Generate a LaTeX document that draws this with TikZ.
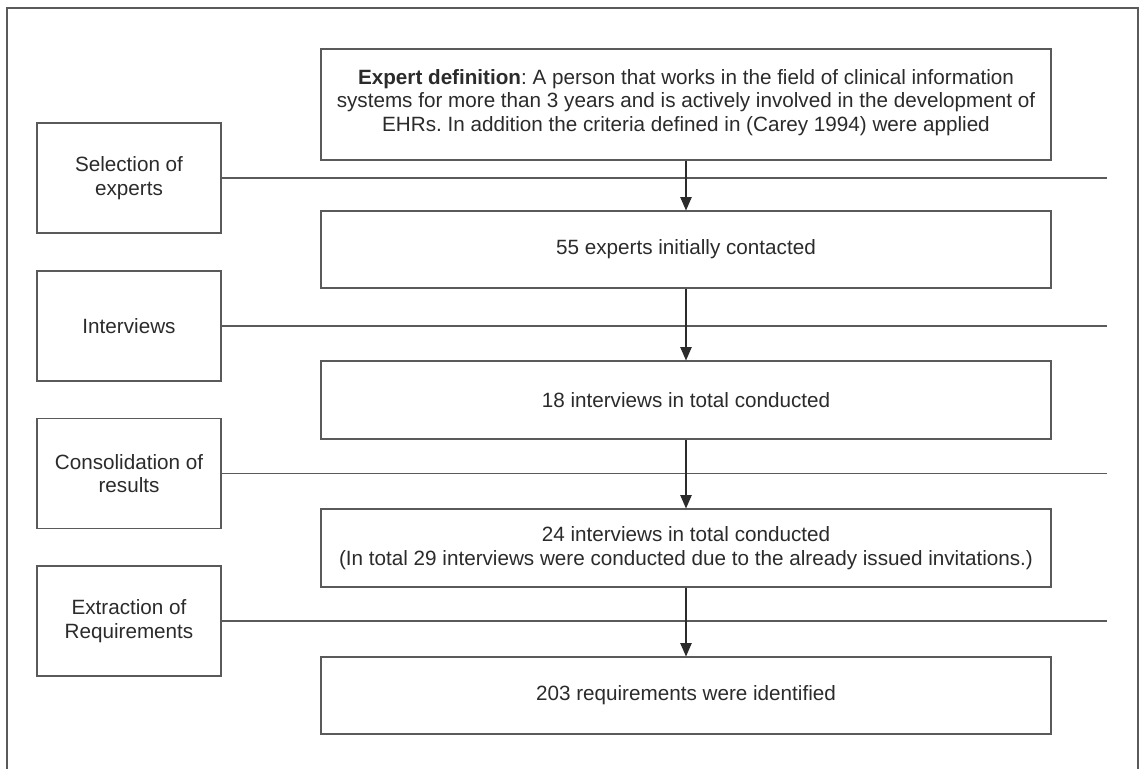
\documentclass[tikz,border=0pt]{standalone}
\usepackage{fontspec}
\setmainfont{Liberation Sans}
\usetikzlibrary{arrows.meta}
\definecolor{linegray}{HTML}{5A5A5A}
\definecolor{textgray}{HTML}{2B2B2B}
\frenchspacing
\begin{document}
\begin{tikzpicture}[x=0.75pt,y=-0.75pt,
  box/.style={draw=linegray,line width=0.8pt,fill=white,text=textgray,align=center,inner sep=0pt,
    font=\fontsize{15.5pt}{17.5pt}\selectfont},
  phase/.style={box,minimum width=138pt,minimum height=82.5pt},
  result/.style={box,minimum width=547.5pt},
  sepline/.style={draw=linegray,line width=0.8pt},
  flow/.style={draw=textgray,line width=0.8pt,-{Triangle[length=10pt,width=8.5pt]}}]
\useasboundingbox (0,0) rectangle (1146,769);
% outer frame (open at the bottom)
\draw[linegray,line width=0.9pt] (7,769) -- (7,8) -- (1138,8) -- (1138,769);
% phases on the left
\node[phase] (p1) at (129,178) {Selection of\\experts};
\node[phase] (p2) at (129,326) {Interviews};
\node[phase] (p3) at (129,473.5) {Consolidation of\\results};
\node[phase] (p4) at (129,621) {Extraction of\\Requirements};
% line ends
\coordinate (e1) at (1107,178);
\coordinate (e2) at (1107,326);
\coordinate (e3) at (1107,473.5);
\coordinate (e4) at (1107,621);
\draw[sepline] (p1.east) -- (e1);
\draw[sepline] (p2.east) -- (e2);
\draw[sepline] (p3.east) -- (e3);
\draw[sepline] (p4.east) -- (e4);
% results on the right
\node[result,minimum height=83.25pt] (r1) at (686,104.5) {\textbf{Expert definition}: A person that works in the field of clinical information\\systems for more than 3 years and is actively involved in the development of\\EHRs. In addition the criteria defined in (Carey 1994) were applied\\[-11.5pt]};
\node[result,minimum height=57.75pt] (r2) at (686,249.5) {55 experts initially contacted};
\node[result,minimum height=58.5pt] (r3) at (686,400) {18 interviews in total conducted};
\node[result,minimum height=58.5pt] (r4) at (686,548) {24 interviews in total conducted\\(In total 29 interviews were conducted due to the already issued invitations.)};
\node[result,minimum height=57.75pt] (r5) at (686,695.5) {203 requirements were identified};
% arrows
\draw[flow] (r1) -- (r2);
\draw[flow] (r2) -- (r3);
\draw[flow] (r3) -- (r4);
\draw[flow] (r4) -- (r5);
\end{tikzpicture}
\end{document}
